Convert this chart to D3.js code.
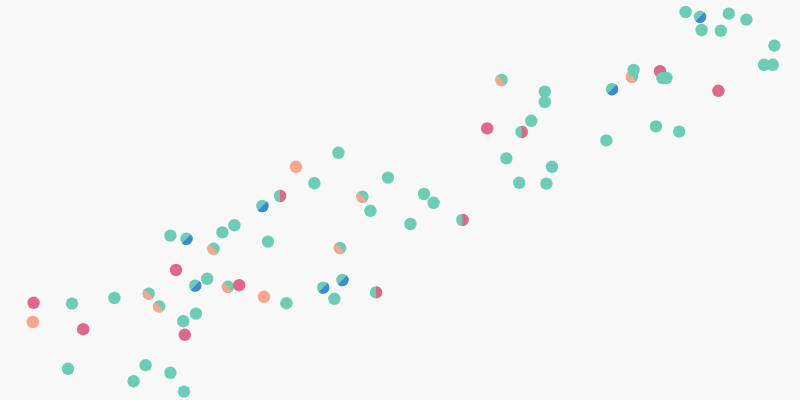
<!DOCTYPE html>
<html>
<head>
<meta charset="utf-8">
<script src="https://cdn.jsdelivr.net/npm/d3@7"></script>
<style>
  html, body { margin: 0; padding: 0; background: #f8f8f8; }
  svg { display: block; }
</style>
</head>
<body>
<svg id="chart" width="800" height="400"></svg>
<script>
// point values (x and y on a 0-100 scale)
var xValues = [4.2, 4.1, 9.0, 10.4, 14.3, 8.5, 18.2, 16.7, 21.3, 23.0,
  18.6, 19.9, 21.3, 23.3, 22.0, 24.4, 24.5, 22.9, 23.1, 25.9,
  26.7, 27.8, 29.3, 28.5, 29.9, 33.0, 35.8, 33.5, 32.8, 35.0,
  37.0, 39.3, 42.3, 45.3, 46.3, 48.5, 42.5, 40.4, 42.8, 41.8,
  47.0, 53.0, 54.2, 51.3, 57.8, 62.7, 68.1, 68.1, 60.9, 66.4,
  65.2, 63.3, 69.0, 64.9, 68.3, 76.5, 79.2, 79.0, 82.5, 82.8,
  83.3, 89.8, 75.8, 82.0, 84.9, 85.7, 87.5, 91.1, 93.3, 87.7,
  90.1, 96.8, 95.5, 96.6];
var yValues = [24.3, 19.5, 24.1, 17.7, 25.5, 7.8, 8.7, 4.7, 6.8, 2.1,
  26.6, 23.4, 41.1, 40.3, 32.5, 28.6, 21.6, 19.7, 16.3, 30.3,
  37.8, 41.9, 43.7, 28.3, 28.7, 25.8, 24.2, 39.6, 48.5, 51.0,
  58.3, 54.2, 61.8, 50.8, 47.3, 55.6, 38.0, 28.1, 30.0, 25.3,
  26.9, 51.5, 49.3, 44.0, 45.0, 80.0, 77.1, 74.5, 67.9, 69.8,
  67.0, 60.4, 58.3, 54.3, 54.1, 77.7, 82.5, 80.8, 82.2, 80.5,
  80.5, 77.3, 64.9, 68.4, 67.1, 97.0, 95.8, 96.6, 95.1, 92.5,
  92.3, 88.6, 83.8, 83.8];
// category of each point; "A+X" means the dot belongs to both
var groupValues = ["C", "B", "A", "C", "A", "A", "A", "A", "A", "A",
  "A+B", "A+B", "A", "A+D", "C", "A+D", "A", "A", "C", "A",
  "A+B", "A", "A", "A+B", "C", "B", "A", "A", "A+D", "A+C",
  "B", "A", "A", "A+B", "A", "A", "A+B", "A+D", "A+D", "A",
  "A+C", "A", "A", "A", "A+C", "A+B", "A", "A", "C", "A",
  "A+C", "A", "A", "A", "A", "A+D", "A", "A+B", "C", "A",
  "A", "C", "A", "A", "A", "A", "A+D", "A", "A", "A",
  "A", "A", "A", "A"];
var categories = ["A", "B", "C", "D"];
var colors = ["#6ccdb5", "#f6a78b", "#e0668a", "#3d89d5"];
// where the second half of a split dot starts (degrees, clockwise from top)
var halfStart = { B: 135, C: 0, D: 45 };

var width = 800, height = 400, r = 6.2;

var svg = d3.select("#chart");

var x = d3.scaleLinear().domain([0, 100]).range([0, width]);
var y = d3.scaleLinear().domain([0, 100]).range([height, 0]);
var color = d3.scaleOrdinal().domain(categories).range(colors);

var points = xValues.map(function(v, i) {
  var parts = groupValues[i].split("+");
  return { x: v, y: yValues[i], main: parts[0], second: parts[1] };
});

var half = d3.arc().innerRadius(0).outerRadius(r);

var dots = svg.append("g").selectAll("g")
  .data(points)
  .join("g")
  .attr("transform", function(d) { return "translate(" + x(d.x) + "," + y(d.y) + ")"; });

dots.append("circle")
  .attr("r", r)
  .style("fill", function(d) { return color(d.main); });

dots.filter(function(d) { return d.second; })
  .append("path")
  .attr("d", function(d) {
    var a = halfStart[d.second] * Math.PI / 180;
    return half({ startAngle: a, endAngle: a + Math.PI });
  })
  .style("fill", function(d) { return color(d.second); });
</script>
</body>
</html>
